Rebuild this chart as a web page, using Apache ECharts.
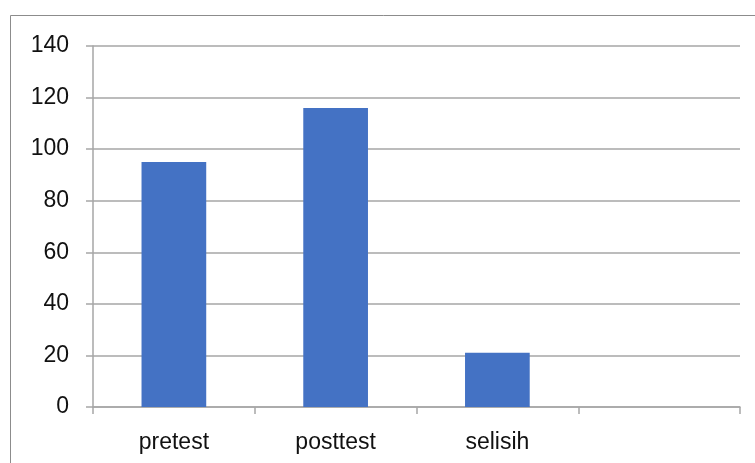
<!DOCTYPE html>
<html>
<head>
<meta charset="utf-8">
<script src="https://cdn.jsdelivr.net/npm/echarts@6/dist/echarts.min.js"></script>
<style>
  html, body { margin: 0; padding: 0; background: #fff; }
  #chart { width: 755px; height: 463px; }
</style>
</head>
<body>
<div id="chart"></div>
<script>
var categories = ['pretest', 'posttest', 'selisih', ''];
var values = [95, 116, 21, null];
var yTicks = { min: 0, max: 140, step: 20 };

var myChart = echarts.init(document.getElementById('chart'));
var gridColor = '#a6a6a6';
myChart.setOption({
  animation: false,
  graphic: [{
    type: 'rect',
    shape: { x: 10.5, y: 15.5, width: 800, height: 500 },
    style: { fill: 'none', stroke: '#8c8c8c', lineWidth: 1 }
  }],
  grid: { left: 93, top: 46, right: 15, bottom: 56 },
  xAxis: {
    type: 'category',
    data: categories,
    axisLine: { lineStyle: { color: gridColor, width: 1.5 } },
    axisTick: { show: true, length: 7, lineStyle: { color: gridColor, width: 1.5 } },
    axisLabel: { margin: 24, color: '#111', fontSize: 23, fontFamily: 'Liberation Sans' }
  },
  yAxis: {
    type: 'value',
    min: yTicks.min,
    max: yTicks.max,
    interval: yTicks.step,
    axisLine: { show: true, lineStyle: { color: gridColor, width: 1.5 } },
    axisTick: { show: true, length: 7, lineStyle: { color: gridColor, width: 1.5 } },
    splitLine: { lineStyle: { color: gridColor, width: 1.5 } },
    axisLabel: { margin: 24, color: '#111', fontSize: 23, fontFamily: 'Liberation Sans' }
  },
  series: [{
    type: 'bar',
    data: values,
    barWidth: '40%',
    itemStyle: { color: '#4472c4' }
  }]
});
</script>
</body>
</html>
